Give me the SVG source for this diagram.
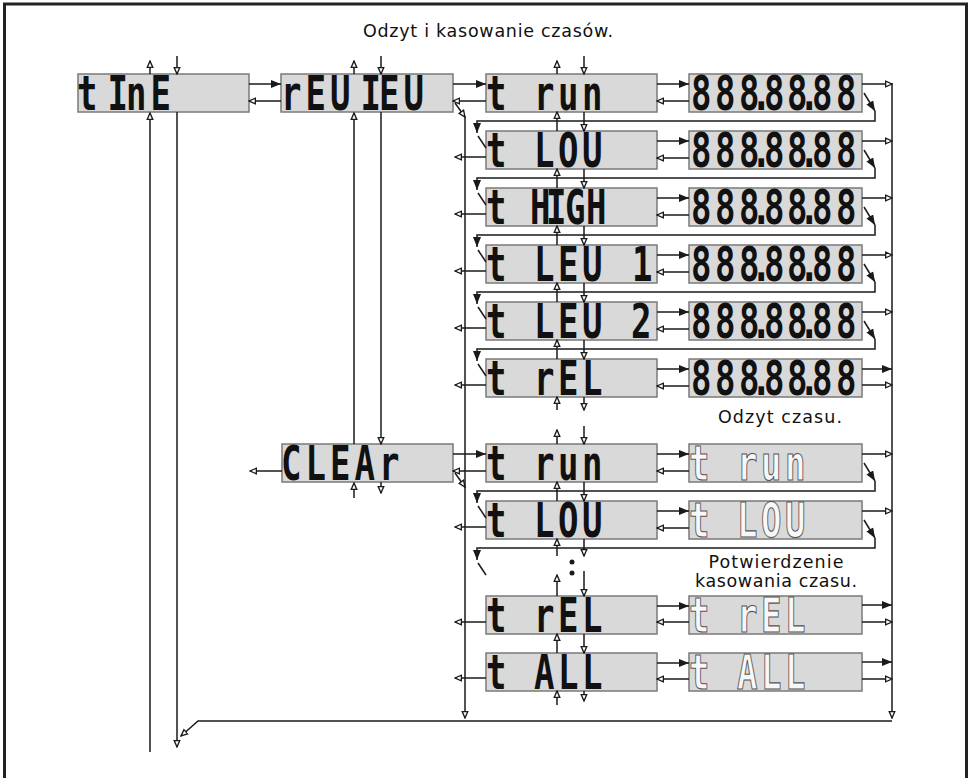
<svg xmlns="http://www.w3.org/2000/svg" width="969" height="778" viewBox="0 0 969 778">
<style>
.box{fill:#d9d9d9;stroke:#7a7a7a;stroke-width:1.5}
.seg{font-family:"DejaVu Sans Mono",monospace;font-weight:bold;font-size:34px;fill:#111;white-space:pre}
.ghost{font-family:"DejaVu Sans Mono",monospace;font-weight:bold;font-size:34px;fill:#f8f8f8;stroke:#555;stroke-width:0.8;white-space:pre}
.lbl{font-family:"DejaVu Sans",sans-serif;font-size:17.5px;fill:#111;text-anchor:middle}
#connectors line,#connectors path{stroke:#1a1a1a;stroke-width:1.5;fill:none}
</style>
<defs>
<marker id="h" viewBox="0 0 10 10" refX="9" refY="5" markerWidth="8" markerHeight="8" markerUnits="userSpaceOnUse" orient="auto"><path d="M1,1.5 L9,5 L1,8.5 z" fill="#fff" stroke="#1a1a1a" stroke-width="1.7"/></marker>
<marker id="f" viewBox="0 0 10 10" refX="10" refY="5" markerWidth="10" markerHeight="10" markerUnits="userSpaceOnUse" orient="auto"><path d="M0,1 L10,5 L0,9 z" fill="#1a1a1a"/></marker>
</defs>
<rect x="0" y="0" width="969" height="778" fill="#fff"/>
<rect x="4.5" y="4" width="962" height="800" fill="none" stroke="#222" stroke-width="3"/>

<text class="lbl" x="488" y="37" textLength="250" lengthAdjust="spacing">Odzyt i kasowanie czasów.</text>
<text class="lbl" x="780" y="423" textLength="124" lengthAdjust="spacing">Odzyt czasu.</text>
<text class="lbl" x="776" y="568" textLength="135" lengthAdjust="spacing">Potwierdzenie</text>
<text class="lbl" x="776" y="587" textLength="162" lengthAdjust="spacing">kasowania czasu.</text>

<g id="n-time"><rect class="box" x="78" y="74" width="171" height="38"/><text class="seg" transform="translate(0,110) scale(1,1.4)" x="77 96 107.5 126 150.5" y="0">t InE</text></g>
<g id="n-review"><rect class="box" x="281" y="74" width="172" height="38"/><text class="seg" transform="translate(0,110) scale(1,1.4)" x="281 305.5 330 346 360.5 379 403.5" y="0">rEU IEU</text></g>
<g id="n-clear"><rect class="box" x="282" y="444" width="171" height="38"/><text class="seg" transform="translate(0,480) scale(1,1.4)" x="281 305.5 330 354.5 379" y="0">CLEAr</text></g>

<g id="n-r-run"><rect class="box" x="486" y="74" width="171" height="38"/><text class="seg" transform="translate(0,110) scale(1,1.4)" x="486 510 534 558 582" y="0">t run</text></g>
<g id="n-r-run-val"><rect class="box" x="689" y="74" width="173" height="38"/><text class="seg" transform="translate(0,110) scale(1,1.4)" x="691 715 739 751 764 787 799 812 836" y="0">888.88.88</text></g>
<g id="n-r-low"><rect class="box" x="486" y="131" width="171" height="38"/><text class="seg" transform="translate(0,167) scale(1,1.4)" x="486 510 534 558 582" y="0">t LOU</text></g>
<g id="n-r-low-val"><rect class="box" x="689" y="131" width="173" height="38"/><text class="seg" transform="translate(0,167) scale(1,1.4)" x="691 715 739 751 764 787 799 812 836" y="0">888.88.88</text></g>
<g id="n-r-high"><rect class="box" x="486" y="188" width="171" height="38"/><text class="seg" transform="translate(0,224) scale(1,1.4)" x="486 510 530 546 565 586" y="0">t HIGH</text></g>
<g id="n-r-high-val"><rect class="box" x="689" y="188" width="173" height="38"/><text class="seg" transform="translate(0,224) scale(1,1.4)" x="691 715 739 751 764 787 799 812 836" y="0">888.88.88</text></g>
<g id="n-r-lev1"><rect class="box" x="486" y="245" width="171" height="38"/><text class="seg" transform="translate(0,281) scale(1,1.4)" x="486 510 534 558 582 606 632" y="0">t LEU 1</text></g>
<g id="n-r-lev1-val"><rect class="box" x="689" y="245" width="173" height="38"/><text class="seg" transform="translate(0,281) scale(1,1.4)" x="691 715 739 751 764 787 799 812 836" y="0">888.88.88</text></g>
<g id="n-r-lev2"><rect class="box" x="486" y="302" width="171" height="38"/><text class="seg" transform="translate(0,338) scale(1,1.4)" x="486 510 534 558 582 606 631" y="0">t LEU 2</text></g>
<g id="n-r-lev2-val"><rect class="box" x="689" y="302" width="173" height="38"/><text class="seg" transform="translate(0,338) scale(1,1.4)" x="691 715 739 751 764 787 799 812 836" y="0">888.88.88</text></g>
<g id="n-r-rel"><rect class="box" x="486" y="359" width="171" height="38"/><text class="seg" transform="translate(0,395) scale(1,1.4)" x="486 510 534 558 582" y="0">t rEL</text></g>
<g id="n-r-rel-val"><rect class="box" x="689" y="359" width="173" height="38"/><text class="seg" transform="translate(0,395) scale(1,1.4)" x="691 715 739 751 764 787 799 812 836" y="0">888.88.88</text></g>

<g id="n-c-run"><rect class="box" x="486" y="444" width="171" height="38"/><text class="seg" transform="translate(0,480) scale(1,1.4)" x="486 510 534 558 582" y="0">t run</text></g>
<g id="n-c-run-ok"><rect class="box" x="689" y="444" width="173" height="38"/><text class="ghost" transform="translate(0,480) scale(1,1.4)" x="689 713 737 761 785" y="0">t run</text></g>
<g id="n-c-low"><rect class="box" x="486" y="501" width="171" height="38"/><text class="seg" transform="translate(0,537) scale(1,1.4)" x="486 510 534 558 582" y="0">t LOU</text></g>
<g id="n-c-low-ok"><rect class="box" x="689" y="501" width="173" height="38"/><text class="ghost" transform="translate(0,537) scale(1,1.4)" x="689 713 737 761 785" y="0">t LOU</text></g>
<g id="n-c-rel"><rect class="box" x="486" y="596" width="171" height="38"/><text class="seg" transform="translate(0,632) scale(1,1.4)" x="486 510 534 558 582" y="0">t rEL</text></g>
<g id="n-c-rel-ok"><rect class="box" x="689" y="596" width="173" height="38"/><text class="ghost" transform="translate(0,632) scale(1,1.4)" x="689 713 737 761 785" y="0">t rEL</text></g>
<g id="n-c-all"><rect class="box" x="486" y="653" width="171" height="38"/><text class="seg" transform="translate(0,689) scale(1,1.4)" x="486 510 534 558 582" y="0">t ALL</text></g>
<g id="n-c-all-ok"><rect class="box" x="689" y="653" width="173" height="38"/><text class="ghost" transform="translate(0,689) scale(1,1.4)" x="689 713 737 761 785" y="0">t ALL</text></g>

<g id="connectors">
<line x1="249" y1="84" x2="281" y2="84" marker-end="url(#f)"/>
<line x1="281" y1="101" x2="249" y2="101" marker-end="url(#h)"/>
<line x1="150" y1="74" x2="150" y2="61" marker-end="url(#h)"/>
<line x1="177" y1="56" x2="177" y2="74" marker-end="url(#h)"/>
<line x1="150" y1="752" x2="150" y2="113" marker-end="url(#h)"/>
<line x1="177" y1="112" x2="177" y2="747" marker-end="url(#h)"/>
<line x1="453" y1="84" x2="486" y2="84" marker-end="url(#f)"/>
<line x1="486" y1="101" x2="453" y2="101" marker-end="url(#h)"/>
<line x1="354" y1="74" x2="354" y2="61" marker-end="url(#h)"/>
<line x1="381" y1="56" x2="381" y2="74" marker-end="url(#h)"/>
<line x1="354" y1="444" x2="354" y2="113" marker-end="url(#h)"/>
<line x1="381" y1="112" x2="381" y2="444" marker-end="url(#h)"/>
<line x1="455" y1="103" x2="465" y2="117" marker-end="url(#h)"/>
<line x1="453" y1="454" x2="486" y2="454" marker-end="url(#f)"/>
<line x1="486" y1="471" x2="453" y2="471" marker-end="url(#h)"/>
<line x1="282" y1="471" x2="250" y2="471" marker-end="url(#h)"/>
<line x1="354" y1="498" x2="354" y2="483" marker-end="url(#h)"/>
<line x1="381" y1="482" x2="381" y2="493" marker-end="url(#h)"/>
<line x1="455" y1="473" x2="465" y2="487" marker-end="url(#h)"/>
<line x1="465" y1="117" x2="465" y2="718" marker-end="url(#h)"/>
<line x1="892" y1="83" x2="892" y2="718" marker-end="url(#h)"/>
<path d="M892,721 H198 L181,736" marker-end="url(#h)"/>

<line x1="657" y1="84" x2="689" y2="84" marker-end="url(#f)"/>
<line x1="689" y1="101" x2="657" y2="101" marker-end="url(#h)"/>
<line x1="862" y1="84" x2="892" y2="84" marker-end="url(#h)"/>
<line x1="864" y1="93" x2="875" y2="111" marker-end="url(#f)"/>
<path d="M875,111 V121 H477 V133" marker-end="url(#f)"/>
<line x1="478" y1="136" x2="486" y2="148"/>
<line x1="557" y1="74" x2="557" y2="61" marker-end="url(#h)"/>
<line x1="584" y1="56" x2="584" y2="74" marker-end="url(#h)"/>

<line x1="657" y1="141" x2="689" y2="141" marker-end="url(#f)"/>
<line x1="689" y1="158" x2="657" y2="158" marker-end="url(#h)"/>
<line x1="862" y1="141" x2="892" y2="141" marker-end="url(#h)"/>
<line x1="864" y1="150" x2="875" y2="168" marker-end="url(#f)"/>
<path d="M875,168 V178 H477 V190" marker-end="url(#f)"/>
<line x1="478" y1="193" x2="486" y2="205"/>
<line x1="486" y1="157" x2="455" y2="157" marker-end="url(#h)"/>
<line x1="557" y1="131" x2="557" y2="112" marker-end="url(#h)"/>
<line x1="584" y1="112" x2="584" y2="131" marker-end="url(#h)"/>

<line x1="657" y1="198" x2="689" y2="198" marker-end="url(#f)"/>
<line x1="689" y1="215" x2="657" y2="215" marker-end="url(#h)"/>
<line x1="862" y1="198" x2="892" y2="198" marker-end="url(#h)"/>
<line x1="864" y1="207" x2="875" y2="225" marker-end="url(#f)"/>
<path d="M875,225 V235 H477 V247" marker-end="url(#f)"/>
<line x1="478" y1="250" x2="486" y2="262"/>
<line x1="486" y1="214" x2="455" y2="214" marker-end="url(#h)"/>
<line x1="557" y1="188" x2="557" y2="169" marker-end="url(#h)"/>
<line x1="584" y1="169" x2="584" y2="188" marker-end="url(#h)"/>

<line x1="657" y1="255" x2="689" y2="255" marker-end="url(#f)"/>
<line x1="689" y1="272" x2="657" y2="272" marker-end="url(#h)"/>
<line x1="862" y1="255" x2="892" y2="255" marker-end="url(#h)"/>
<line x1="864" y1="264" x2="875" y2="282" marker-end="url(#f)"/>
<path d="M875,282 V292 H477 V304" marker-end="url(#f)"/>
<line x1="478" y1="307" x2="486" y2="319"/>
<line x1="486" y1="271" x2="455" y2="271" marker-end="url(#h)"/>
<line x1="557" y1="245" x2="557" y2="226" marker-end="url(#h)"/>
<line x1="584" y1="226" x2="584" y2="245" marker-end="url(#h)"/>

<line x1="657" y1="312" x2="689" y2="312" marker-end="url(#f)"/>
<line x1="689" y1="329" x2="657" y2="329" marker-end="url(#h)"/>
<line x1="862" y1="312" x2="892" y2="312" marker-end="url(#h)"/>
<line x1="864" y1="321" x2="875" y2="339" marker-end="url(#f)"/>
<path d="M875,339 V349 H477 V361" marker-end="url(#f)"/>
<line x1="478" y1="364" x2="486" y2="376"/>
<line x1="486" y1="328" x2="455" y2="328" marker-end="url(#h)"/>
<line x1="557" y1="302" x2="557" y2="283" marker-end="url(#h)"/>
<line x1="584" y1="283" x2="584" y2="302" marker-end="url(#h)"/>

<line x1="657" y1="369" x2="689" y2="369" marker-end="url(#f)"/>
<line x1="689" y1="386" x2="657" y2="386" marker-end="url(#h)"/>
<line x1="862" y1="369" x2="892" y2="369" marker-end="url(#f)"/>
<line x1="862" y1="385" x2="892" y2="385" marker-end="url(#h)"/>
<line x1="486" y1="385" x2="455" y2="385" marker-end="url(#h)"/>
<line x1="557" y1="359" x2="557" y2="340" marker-end="url(#h)"/>
<line x1="584" y1="340" x2="584" y2="359" marker-end="url(#h)"/>
<line x1="557" y1="410" x2="557" y2="397" marker-end="url(#h)"/>
<line x1="584" y1="397" x2="584" y2="410" marker-end="url(#h)"/>

<line x1="657" y1="454" x2="689" y2="454" marker-end="url(#f)"/>
<line x1="689" y1="471" x2="657" y2="471" marker-end="url(#h)"/>
<line x1="862" y1="454" x2="892" y2="454" marker-end="url(#h)"/>
<line x1="864" y1="463" x2="875" y2="481" marker-end="url(#f)"/>
<path d="M875,481 V491 H477 V503" marker-end="url(#f)"/>
<line x1="478" y1="506" x2="486" y2="518"/>
<line x1="557" y1="444" x2="557" y2="430" marker-end="url(#h)"/>
<line x1="584" y1="426" x2="584" y2="444" marker-end="url(#h)"/>

<line x1="657" y1="511" x2="689" y2="511" marker-end="url(#f)"/>
<line x1="689" y1="528" x2="657" y2="528" marker-end="url(#h)"/>
<line x1="862" y1="511" x2="892" y2="511" marker-end="url(#h)"/>
<line x1="864" y1="520" x2="875" y2="538" marker-end="url(#f)"/>
<path d="M875,538 V548 H477 V560" marker-end="url(#f)"/>
<line x1="478" y1="563" x2="486" y2="575"/>
<line x1="486" y1="527" x2="455" y2="527" marker-end="url(#h)"/>
<line x1="557" y1="501" x2="557" y2="482" marker-end="url(#h)"/>
<line x1="584" y1="482" x2="584" y2="501" marker-end="url(#h)"/>
<line x1="557" y1="556" x2="557" y2="539" marker-end="url(#h)"/>
<line x1="584" y1="539" x2="584" y2="556" marker-end="url(#h)"/>
<circle cx="572" cy="562" r="2.5" fill="#1a1a1a"/>
<circle cx="572" cy="573" r="2.5" fill="#1a1a1a"/>

<line x1="657" y1="606" x2="689" y2="606" marker-end="url(#f)"/>
<line x1="689" y1="622" x2="657" y2="622" marker-end="url(#h)"/>
<line x1="862" y1="605" x2="892" y2="605" marker-end="url(#f)"/>
<line x1="862" y1="622" x2="892" y2="622" marker-end="url(#h)"/>
<line x1="486" y1="622" x2="455" y2="622" marker-end="url(#h)"/>
<line x1="557" y1="596" x2="557" y2="575" marker-end="url(#h)"/>
<line x1="584" y1="571" x2="584" y2="596" marker-end="url(#h)"/>

<line x1="657" y1="663" x2="689" y2="663" marker-end="url(#f)"/>
<line x1="689" y1="679" x2="657" y2="679" marker-end="url(#h)"/>
<line x1="862" y1="662" x2="892" y2="662" marker-end="url(#f)"/>
<line x1="862" y1="679" x2="892" y2="679" marker-end="url(#h)"/>
<line x1="486" y1="678" x2="455" y2="678" marker-end="url(#h)"/>
<line x1="557" y1="653" x2="557" y2="634" marker-end="url(#h)"/>
<line x1="584" y1="634" x2="584" y2="653" marker-end="url(#h)"/>
<line x1="557" y1="705" x2="557" y2="691" marker-end="url(#h)"/>
<line x1="584" y1="691" x2="584" y2="701" marker-end="url(#h)"/>
</g>
</svg>
